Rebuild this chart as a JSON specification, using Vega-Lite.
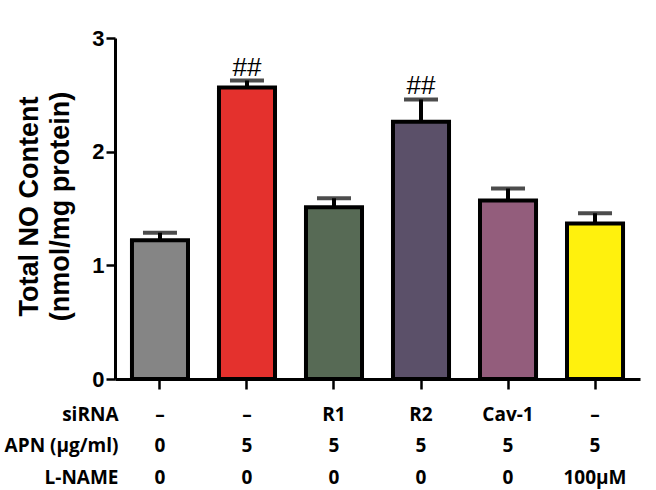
{
  "$schema": "https://vega.github.io/schema/vega-lite/v6.json",
  "width": 525,
  "height": 341,
  "autosize": {"type": "none"},
  "padding": {"left": 115, "top": 38, "right": 16, "bottom": 111},
  "background": "white",
  "config": {"view": {"stroke": null}, "axis": {"grid": false}},
  "data": {
    "values": [
      {"grp": "–|0|0", "mean": 1.22, "upper": 1.287, "sig": ""},
      {"grp": "–|5|0", "mean": 2.565, "upper": 2.626, "sig": "##"},
      {"grp": "R1|5|0", "mean": 1.51, "upper": 1.59, "sig": ""},
      {"grp": "R2|5|0", "mean": 2.264, "upper": 2.459, "sig": "##"},
      {"grp": "Cav-1|5|0", "mean": 1.57, "upper": 1.676, "sig": ""},
      {"grp": "–|5|100μM", "mean": 1.369, "upper": 1.458, "sig": ""}
    ]
  },
  "encoding": {
    "x": {
      "field": "grp",
      "type": "nominal",
      "sort": null,
      "scale": {"paddingInner": 0.356, "paddingOuter": 0.195},
      "axis": {
        "title": ["siRNA", "APN (μg/ml)", "L-NAME"],
        "titleX": 3,
        "titleY": 26,
        "titleAlign": "right",
        "titleBaseline": "top",
        "titleAngle": 0,
        "titleFont": "Open Sans",
        "titleFontSize": 19,
        "titleFontWeight": "bold",
        "titleColor": "black",
        "titleLineHeight": 31.5,
        "labelExpr": "split(datum.label, '|')",
        "labelAngle": 0,
        "labelFont": "Open Sans",
        "labelFontSize": 19,
        "labelFontWeight": "bold",
        "labelColor": "black",
        "labelBaseline": "top",
        "labelPadding": 16,
        "labelLineHeight": 31.5,
        "labelOverlap": false,
        "labelBound": false,
        "labelFlush": false,
        "tickSize": 10,
        "tickWidth": 2.5,
        "tickColor": "black",
        "domainColor": "black",
        "domainWidth": 3
      }
    }
  },
  "layer": [
    {
      "mark": {"type": "rule", "strokeWidth": 4, "color": "black"},
      "encoding": {
        "y": {
          "field": "mean",
          "type": "quantitative",
          "scale": {"domain": [0, 3], "nice": false},
          "axis": {
            "values": [0, 1, 2, 3],
            "format": "d",
            "title": ["Total NO Content", "(nmol/mg protein)"],
            "titleFont": "Liberation Sans",
            "titleFontSize": 27,
            "titleFontWeight": "bold",
            "titleColor": "black",
            "titleLineHeight": 31,
            "titleAngle": -90,
            "titleBaseline": "top",
            "titleAlign": "center",
            "titleX": -99,
            "titleY": 168,
            "labelFont": "Liberation Sans",
            "labelFontSize": 22,
            "labelFontWeight": "bold",
            "labelColor": "black",
            "labelPadding": 2,
            "tickSize": 9,
            "tickWidth": 2.5,
            "tickColor": "black",
            "domainColor": "black",
            "domainWidth": 3
          }
        },
        "y2": {"field": "upper"}
      }
    },
    {
      "mark": {"type": "tick", "thickness": 4, "size": 34, "color": "black"},
      "encoding": {"y": {"field": "upper", "type": "quantitative"}}
    },
    {
      "mark": {"type": "bar", "stroke": "black", "strokeWidth": 4},
      "encoding": {
        "y": {"field": "mean", "type": "quantitative"},
        "fill": {
          "field": "grp",
          "type": "nominal",
          "sort": null,
          "scale": {
            "domain": ["–|0|0", "–|5|0", "R1|5|0", "R2|5|0", "Cav-1|5|0", "–|5|100μM"],
            "range": ["#858585", "#e4312d", "#576a55", "#5b5069", "#935d7c", "#fff10d"]
          },
          "legend": null
        }
      }
    },
    {
      "mark": {"type": "text", "baseline": "alphabetic", "dy": -5, "font": "Liberation Sans", "fontSize": 26, "color": "black"},
      "encoding": {
        "y": {"field": "upper", "type": "quantitative"},
        "text": {"field": "sig"}
      }
    }
  ]
}
